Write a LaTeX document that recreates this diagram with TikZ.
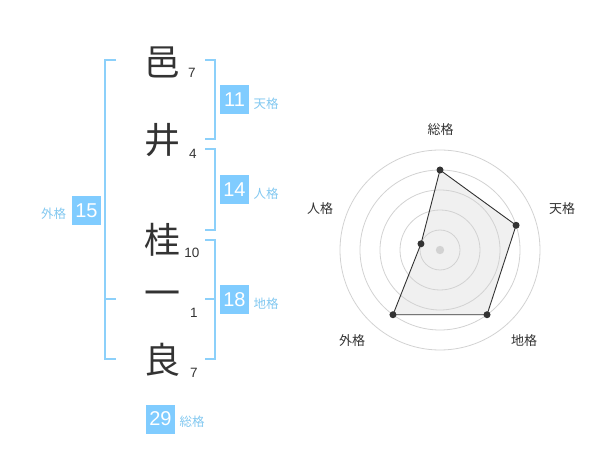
\documentclass[tikz,border=0pt]{standalone}
\usepackage{fontspec}
\setmainfont{Liberation Sans}
\newfontfamily\cjk{Noto Sans CJK JP}
\definecolor{boxblue}{RGB}{128,204,255}
\definecolor{brblue}{RGB}{140,208,250}
\definecolor{lblblue}{RGB}{130,200,240}
\definecolor{darktxt}{RGB}{51,51,51}
\definecolor{ringgray}{RGB}{210,210,210}
\definecolor{polyfill}{RGB}{240,240,240}
\tikzset{
  kanji/.style={inner sep=0pt, text=darktxt, font=\cjk\fontsize{36}{36}\selectfont},
  strokes/.style={inner sep=0pt, text=darktxt, font=\fontsize{13.5}{14}\selectfont},
  valbox/.style={fill=boxblue, text=white, minimum width=29pt, minimum height=29pt, inner sep=0pt, font=\fontsize{20}{20}\selectfont},
  vallbl/.style={inner sep=0pt, text=lblblue, font=\cjk\fontsize{12.5}{13}\selectfont},
  bracket/.style={draw=brblue, line width=1.6pt},
  ring/.style={draw=ringgray, line width=0.8pt},
  radlbl/.style={inner sep=0pt, text=darktxt, font=\cjk\fontsize{13}{13}\selectfont},
  dot/.style={circle, fill=darktxt, minimum size=7pt, inner sep=0pt}
}
\begin{document}
\begin{tikzpicture}[x=1pt,y=-1pt]
\useasboundingbox (0,0) rectangle (600,470);
% brackets
\draw[bracket] (116,60) -- (105,60) -- (105,359) -- (116,359);
\draw[bracket] (105,299) -- (116,299);
\draw[bracket] (205,60) -- (215,60) -- (215,139) -- (205,139);
\draw[bracket] (205,149) -- (215,149) -- (215,230) -- (205,230);
\draw[bracket] (205,240) -- (215,240) -- (215,359) -- (205,359);
\draw[bracket] (205,299) -- (215,299);
% characters
\node[kanji] (c1) at (162,62) {邑};
\node[kanji] (c2) at (162,140) {井};
\node[kanji] (c3) at (162,240) {桂};
\node[kanji] (c4) at (162,299) {一};
\node[kanji] (c5) at (162,360) {良};
\node[strokes] (n1) at (192,73) {7};
\node[strokes] (n2) at (193,154) {4};
\node[strokes] (n3) at (192,253) {10};
\node[strokes] (n4) at (194,313) {1};
\node[strokes] (n5) at (194,373) {7};
% values
\node[valbox] (ten) at (234.5,100) {11};
\node[vallbl] (tenl) at (266,104) {天格};
\node[valbox] (jin) at (234.5,190) {14};
\node[vallbl] (jinl) at (266,194) {人格};
\node[valbox] (chi) at (234.5,300) {18};
\node[vallbl] (chil) at (266,304) {地格};
\node[valbox] (gai) at (86.5,211) {15};
\node[vallbl] (gail) at (53.5,214) {外格};
\node[valbox] (sou) at (160.5,419) {29};
\node[vallbl] (soul) at (192,422) {総格};
% radar
\begin{scope}[shift={(440,250)}, yscale=-1]
  \coordinate (pS) at (90:80);
  \coordinate (pT) at (18:80);
  \coordinate (pC) at (-54:80);
  \coordinate (pG) at (-126:80);
  \coordinate (pJ) at (162:20);
  \fill[polyfill] (pS) -- (pT) -- (pC) -- (pG) -- (pJ) -- cycle;
  \foreach \r in {20,40,60,80,100} \draw[ring] (0,0) circle (\r);
  \draw[darktxt, line width=0.9pt] (pS) -- (pT) -- (pC) -- (pG) -- (pJ) -- cycle;
  \fill[ringgray] (0,0) circle (4.2);
  \foreach \p in {pS,pT,pC,pG,pJ} \node[dot] at (\p) {};
\end{scope}
\node[radlbl] (rS) at (440.5,130) {総格};
\node[radlbl] (rT) at (562,209) {天格};
\node[radlbl] (rC) at (524,341) {地格};
\node[radlbl] (rG) at (352,341) {外格};
\node[radlbl] (rJ) at (320,209) {人格};
\end{tikzpicture}
\end{document}
